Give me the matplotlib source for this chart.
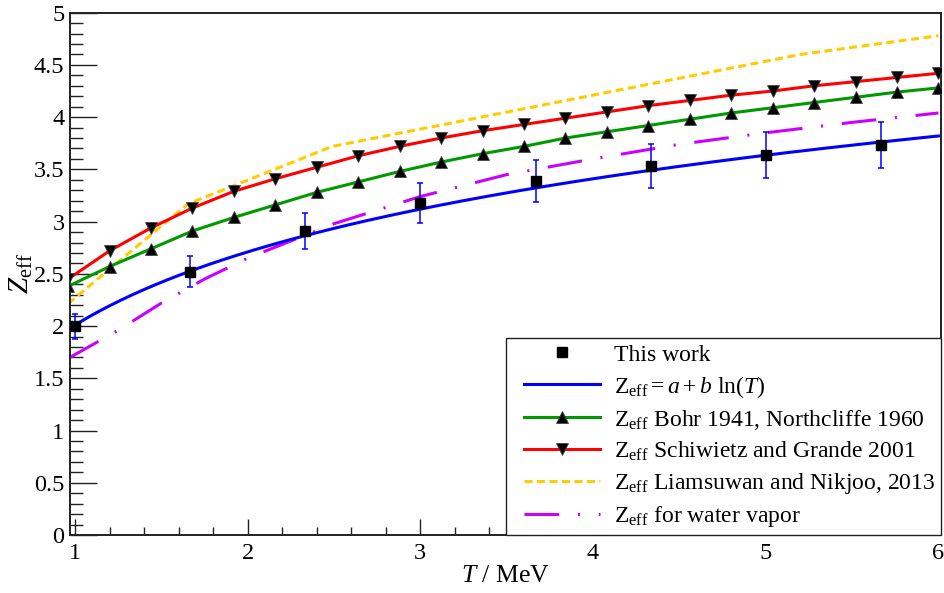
import numpy as np
import matplotlib
matplotlib.use("Agg")
import matplotlib.pyplot as plt
from matplotlib.lines import Line2D
from matplotlib.legend_handler import HandlerLine2D
from matplotlib.ticker import MultipleLocator, FixedLocator

plt.rcParams.update({
    "font.family": ["Liberation Serif", "DejaVu Serif"],
    "mathtext.fontset": "custom",
    "mathtext.rm": "Liberation Serif",
    "mathtext.it": "Liberation Serif:italic",
    "mathtext.bf": "Liberation Serif:bold",
    "lines.scale_dashes": False,
})

# Measured effective charge with uncertainties
T_meas = [1.0, 1.667, 2.333, 3.0, 3.667, 4.333, 5.0, 5.667]
Z_meas = [2.00, 2.52, 2.91, 3.18, 3.39, 3.53, 3.64, 3.73]
Z_err = [0.12, 0.15, 0.17, 0.19, 0.20, 0.21, 0.22, 0.22]

# Fit Z_eff = a + b ln(T)
fit_a = 2.01
fit_b = 1.01
fit_range = (1.0, 6.0)

# Model curves on a common energy grid
T_model = [0.96, 1.20, 1.44, 1.68, 1.92, 2.16, 2.40, 2.64, 2.88, 3.12, 3.36,
           3.60, 3.84, 4.08, 4.32, 4.56, 4.80, 5.04, 5.28, 5.52, 5.76, 6.00]
Z_bohr = [2.38, 2.57, 2.74, 2.91, 3.04, 3.16, 3.28, 3.38, 3.48, 3.57, 3.65,
          3.72, 3.80, 3.86, 3.92, 3.98, 4.04, 4.09, 4.14, 4.19, 4.24, 4.28]
Z_schiwietz = [2.45, 2.72, 2.94, 3.13, 3.29, 3.41, 3.52, 3.63, 3.72, 3.80, 3.87,
               3.93, 3.99, 4.05, 4.11, 4.16, 4.21, 4.25, 4.30, 4.34, 4.38, 4.42]

# Liamsuwan and Nikjoo tabulation
T_liam = [0.96, 1.655, 2.49, 5.2, 6.0]
Z_liam = [2.215, 3.17, 3.72, 4.60, 4.78]

# Water vapour
T_vap = [0.96, 1.25, 1.5, 1.75, 2.0, 2.5, 3.0, 3.5, 4.0, 4.5, 5.0, 5.5, 6.0]
Z_vap = [1.69, 1.96, 2.22, 2.45, 2.65, 2.98, 3.24, 3.45, 3.60, 3.74, 3.85, 3.95, 4.04]

LABELS = ["This work",
          r"$\mathrm{Z}_{\mathrm{eff}} = a + b\ \mathrm{ln}\mathit{(T)}$",
          r"$\mathrm{Z}_{\mathrm{eff}}$ Bohr 1941, Northcliffe 1960",
          r"$\mathrm{Z}_{\mathrm{eff}}$ Schiwietz and Grande 2001",
          r"$\mathrm{Z}_{\mathrm{eff}}$ Liamsuwan and Nikjoo, 2013",
          r"$\mathrm{Z}_{\mathrm{eff}}$ for water vapor"]

fig = plt.figure(figsize=(9.44, 5.93), dpi=100)
ax = fig.add_axes([0.07415, 0.0978, 0.9232, 0.8808])

lw = 2.2
T_fit = np.linspace(fit_range[0], fit_range[1], 300)
Z_fit = fit_a + fit_b * np.log(T_fit)

h_vap, = ax.plot(T_vap, Z_vap, color="#cc00ff", lw=lw, dashes=(25, 13.5, 1.5, 13.5),
                 zorder=2)
h_liam, = ax.plot(T_liam, Z_liam, color="#ffcc00", lw=lw, dashes=(5.8, 3.2), zorder=2)
h_bohr, = ax.plot(T_model, Z_bohr, color="#009900", lw=lw, marker="^", ms=8,
                  mfc="black", mec="#444444", mew=0.6, zorder=3)
h_sch, = ax.plot(T_model, Z_schiwietz, color="#ff0000", lw=lw, marker="v", ms=8,
                 mfc="black", mec="#444444", mew=0.6, zorder=3)
h_fit, = ax.plot(T_fit, Z_fit, color="#0000ff", lw=lw, zorder=4)
ax.errorbar(T_meas, Z_meas, yerr=Z_err, fmt="none", ecolor="#0000ff",
            elinewidth=1.1, capsize=2.5, capthick=1.1, zorder=5)
h_meas, = ax.plot(T_meas, Z_meas, ls="none", marker="s", ms=7, color="black", zorder=6)

ax.set_xlim(0.971, 6.018)
ax.set_ylim(0, 5)

ax.xaxis.set_major_locator(FixedLocator([1, 2, 3, 4, 5, 6]))
ax.xaxis.set_minor_locator(MultipleLocator(0.2))
ax.yaxis.set_major_locator(MultipleLocator(0.5))
ax.yaxis.set_minor_locator(MultipleLocator(0.1))
ax.yaxis.set_major_formatter(plt.FuncFormatter(lambda v, p: f"{v:g}"))

ax.tick_params(which="both", direction="in", top=False, right=False,
               colors="#222222", width=1.0, labelsize=17.5, labelcolor="black")
ax.tick_params(axis="x", which="major", length=11.5, pad=6)
ax.tick_params(axis="x", which="minor", length=6)
ax.tick_params(axis="y", which="major", length=19.5, pad=4)
ax.tick_params(axis="y", which="minor", length=9.5)
for sp in ax.spines.values():
    sp.set_linewidth(1.4)
    sp.set_color("#222222")

ax.set_xlabel(r"$T$ / MeV", fontsize=18.5)
ax.set_ylabel(r"$Z_{\mathrm{eff}}$", fontsize=21)
ax.xaxis.set_label_coords(0.5, -0.058)
ax.yaxis.set_label_coords(-0.04, 0.5)

leg_fs = 17.0
leg = ax.legend([h_meas, h_fit, h_bohr, h_sch, h_liam, h_vap], LABELS,
                loc="lower left", bbox_to_anchor=(0.5006, 0.0, 0.4983, 0.3755),
                mode="expand", borderaxespad=0, fontsize=leg_fs, numpoints=1,
                handlelength=3.7, handletextpad=0.6, labelspacing=0.34,
                borderpad=0.25, fancybox=False, framealpha=1, edgecolor="#222222",
                handler_map={Line2D: HandlerLine2D(xpad=0.5)})
leg.get_frame().set_linewidth(1.0)
leg.set_zorder(10)

fig.savefig("out.png", dpi=100)
